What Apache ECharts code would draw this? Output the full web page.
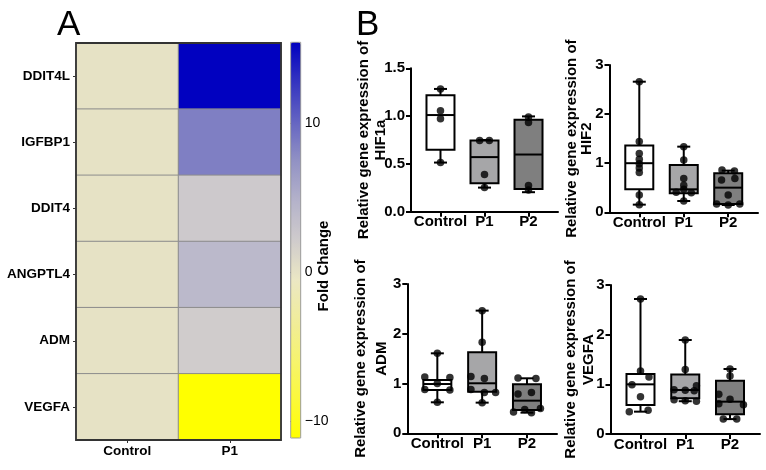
<!DOCTYPE html>
<html><head><meta charset="utf-8">
<script src="https://cdn.jsdelivr.net/npm/echarts@6/dist/echarts.min.js"></script>
<style>html,body{margin:0;padding:0;background:#fff}#c{width:766px;height:470px}</style>
</head><body><div id="c"></div>
<script>
// ---------- Panel A data ----------
const genes = ['DDIT4L', 'IGFBP1', 'DDIT4', 'ANGPTL4', 'ADM', 'VEGFA'];
const heatCols = ['Control', 'P1'];
const controlFold = [0, 0, 0, 0, 0, 0];
const p1Fold = [15.4, 8.6, 2.4, 4.1, 2.1, -11.1];
const foldMin = -11.1;
const foldMax = 15.44;
const foldTicks = [-10, 0, 10];

// ---------- Panel B data ----------
const groups = ['Control', 'P1', 'P2'];
// box stats: [min, Q1, median, Q3, max]
const hif1aBox = [[0.514, 0.647, 1.011, 1.217, 1.284], [0.252, 0.298, 0.571, 0.745, 0.75], [0.204, 0.238, 0.598, 0.962, 0.997]];
const hif1aPts = [[1.284, 1.057, 0.973, 0.514], [0.745, 0.745, 0.39, 0.252], [0.99, 0.934, 0.273, 0.228]];
const hif2Box = [[0.156, 0.468, 1.0, 1.358, 2.66], [0.23, 0.387, 0.468, 0.964, 1.337], [0.149, 0.17, 0.502, 0.794, 0.849]];
const hif2Pts = [[2.66, 1.44, 1.2, 1.08, 0.99, 0.9, 0.81, 0.353, 0.156], [1.337, 1.066, 0.69, 0.55, 0.47, 0.41, 0.40, 0.23], [0.86, 0.84, 0.69, 0.66, 0.353, 0.17, 0.17, 0.149]];
const admBox = [[0.623, 0.87, 0.99, 1.072, 1.607], [0.616, 0.837, 1.005, 1.628, 2.465], [0.415, 0.469, 0.656, 0.985, 1.105]];
const admPts = [[1.607, 1.13, 1.12, 1.0, 0.88, 0.87, 0.623], [2.465, 1.83, 1.14, 1.10, 0.88, 0.82, 0.82, 0.616], [1.11, 1.10, 0.82, 0.79, 0.50, 0.48, 0.43, 0.415]];
const vegfaBox = [[0.45, 0.584, 1.0, 1.208, 2.718], [0.66, 0.718, 0.886, 1.2, 1.893], [0.30, 0.396, 0.651, 1.074, 1.309]];
const vegfaPts = [[2.718, 1.27, 1.15, 0.99, 0.75, 0.48, 0.45], [1.893, 1.30, 0.97, 0.89, 0.88, 0.87, 0.69, 0.67, 0.66], [1.309, 1.17, 0.80, 0.70, 0.61, 0.59, 0.30, 0.30]];

// ---------- layout / style (not data) ----------
// horizontal dot spread, in category units
const spread = {
  hif1a: [[0, 0, 0, 0], [-0.11, 0.11, 0, 0], [0, 0, 0, 0]],
  hif2: [[0, 0, 0, 0, 0, 0, 0, 0, 0], [0, 0, 0, 0, 0, -0.17, 0.17, 0], [-0.14, 0.14, 0.15, -0.15, 0, -0.26, 0.26, 0]],
  adm: [[0, -0.28, 0.28, 0, -0.28, 0.28, 0], [0, 0, -0.25, 0.05, -0.25, 0.05, 0.3, 0], [-0.2, 0.2, 0.1, -0.2, 0.3, -0.05, -0.3, 0.1]],
  vegfa: [[0, 0, 0.19, -0.19, 0, 0.17, -0.25], [0, 0, 0.25, -0.25, 0, 0.2, -0.25, 0, 0.25], [0, 0, -0.25, 0, -0.25, 0.3, -0.15, 0.15]]
};
const boxFills = ['#ffffff', '#a6a6a8', '#7f7f7f'];
const heatColors = ['#ffff00', '#fbf93c', '#f6f370', '#f0ec9c', '#ebe7c4', '#cfcbcc', '#b4b2ca', '#9292c4', '#6464c2', '#3434c0', '#0000c0'];
const SANS = "'Liberation Sans', Arial, Helvetica, sans-serif";

const plots = [
  { gene: 'HIF1a', box: hif1aBox, pts: hif1aPts, sp: spread.hif1a, yMax: 1.5, step: 0.5, dec: 1,
    grid: { left: 411, top: 68.3, width: 147, height: 143.4 }, nameGap: 21.5, lh: 17 },
  { gene: 'HIF2', box: hif2Box, pts: hif2Pts, sp: spread.hif2, yMax: 3, step: 1, dec: 0,
    grid: { left: 609.5, top: 65, width: 148.5, height: 147.3 }, nameGap: 15, lh: 15 },
  { gene: 'ADM', box: admBox, pts: admPts, sp: spread.adm, yMax: 3, step: 1, dec: 0,
    grid: { left: 407.3, top: 284, width: 149.7, height: 149.3 }, nameGap: 14.5, lh: 21 },
  { gene: 'VEGFA', box: vegfaBox, pts: vegfaPts, sp: spread.vegfa, yMax: 3, step: 1, dec: 0,
    grid: { left: 610.5, top: 285, width: 149.5, height: 149 }, nameGap: 12.5, lh: 18 }
];

function boxRenderer(params, api) {
  const x = api.value(0);
  const p = [1, 2, 3, 4, 5].map(d => api.coord([x, api.value(d)]));
  const cx = p[0][0];
  const bw = 28, cw = 13;
  const ls = { stroke: '#000', lineWidth: 2 };
  return {
    type: 'group',
    children: [
      { type: 'line', shape: { x1: cx, y1: p[0][1], x2: cx, y2: p[1][1] }, style: ls },
      { type: 'line', shape: { x1: cx, y1: p[3][1], x2: cx, y2: p[4][1] }, style: ls },
      { type: 'rect', shape: { x: cx - bw / 2, y: p[3][1], width: bw, height: p[1][1] - p[3][1] },
        style: { fill: boxFills[params.dataIndex], stroke: '#000', lineWidth: 2 } },
      { type: 'line', shape: { x1: cx - bw / 2, y1: p[2][1], x2: cx + bw / 2, y2: p[2][1] }, style: ls },
      { type: 'line', shape: { x1: cx - cw / 2, y1: p[0][1], x2: cx + cw / 2, y2: p[0][1] }, style: ls },
      { type: 'line', shape: { x1: cx - cw / 2, y1: p[4][1], x2: cx + cw / 2, y2: p[4][1] }, style: ls }
    ]
  };
}

const heatData = [];
genes.forEach((g, i) => {
  heatData.push([0, i, controlFold[i]]);
  heatData.push([1, i, p1Fold[i]]);
});

const grids = [
  { left: 76, top: 43, width: 205, height: 397, show: true, borderColor: '#333', borderWidth: 1.8, z: 10,
    backgroundColor: 'transparent', outerBoundsMode: 'none', containLabel: false },
  { left: 290.7, top: 42.3, width: 10, height: 395.7, show: true, borderColor: '#888', borderWidth: 0.8, z: 10,
    backgroundColor: 'transparent', outerBoundsMode: 'none', containLabel: false }
];
const xAxes = [
  { type: 'category', gridIndex: 0, data: heatCols, axisLine: { show: false },
    axisTick: { show: true, alignWithLabel: true, length: 3, lineStyle: { color: '#333' } },
    axisLabel: { fontFamily: SANS, fontWeight: 'bold', fontSize: 13.5, color: '#000', margin: 4 } },
  { type: 'value', gridIndex: 1, show: false, min: 0, max: 1 }
];
const yAxes = [
  { type: 'category', gridIndex: 0, data: genes, inverse: true, axisLine: { show: false },
    axisTick: { show: true, alignWithLabel: true, length: 3, lineStyle: { color: '#333' } },
    axisLabel: { fontFamily: SANS, fontWeight: 'bold', fontSize: 13.5, color: '#000', margin: 6 } },
  { type: 'value', gridIndex: 1, position: 'right', min: foldMin, max: foldMax,
    axisLine: { show: false }, splitLine: { show: false },
    axisTick: { show: true, customValues: foldTicks, length: 3, lineStyle: { color: '#333' } },
    axisLabel: { customValues: foldTicks, formatter: v => String(v).replace('-', '\u2212'),
      fontFamily: SANS, fontSize: 14, color: '#000', margin: 4 } }
];
const series = [
  { type: 'heatmap', xAxisIndex: 0, yAxisIndex: 0, data: heatData,
    itemStyle: { borderColor: '#8c8c8c', borderWidth: 1 }, emphasis: { disabled: true } }
];

plots.forEach((pl, k) => {
  const gi = k + 2;
  grids.push(Object.assign({ outerBoundsMode: 'none', containLabel: false }, pl.grid));
  xAxes.push({
    type: 'value', gridIndex: gi, min: -0.67, max: 2.67, splitLine: { show: false },
    axisLine: { show: true, onZero: false, lineStyle: { color: '#000', width: 2 } },
    axisTick: { show: true, customValues: [0, 1, 2], length: 5, lineStyle: { color: '#000', width: 2 } },
    axisLabel: { customValues: [0, 1, 2], formatter: v => groups[Math.round(v)],
      fontFamily: SANS, fontWeight: 'bold', fontSize: 15, color: '#000', margin: 3 }
  });
  yAxes.push({
    type: 'value', gridIndex: gi, min: 0, max: pl.yMax, interval: pl.step, splitLine: { show: false },
    axisLine: { show: true, onZero: false, lineStyle: { color: '#000', width: 2 } },
    axisTick: { show: true, length: 5, lineStyle: { color: '#000', width: 2 } },
    axisLabel: { formatter: v => v.toFixed(pl.dec), fontFamily: SANS, fontWeight: 'bold', fontSize: 15, color: '#000', margin: 6 },
    name: 'Relative gene expression of\n' + pl.gene, nameLocation: 'middle', nameGap: pl.nameGap,
    nameMoveOverlap: false,
    nameTextStyle: { fontFamily: SANS, fontWeight: 'bold', fontSize: 15, color: '#000', lineHeight: pl.lh }
  });
  series.push({
    type: 'custom', xAxisIndex: gi, yAxisIndex: gi, renderItem: boxRenderer,
    encode: { x: 0, y: [1, 2, 3, 4, 5] },
    data: pl.box.map((b, i) => [i].concat(b)), z: 2, silent: true
  });
  const dots = [];
  pl.pts.forEach((arr, i) => arr.forEach((v, j) => dots.push([i + pl.sp[i][j], v])));
  series.push({
    type: 'scatter', xAxisIndex: gi, yAxisIndex: gi, data: dots, symbolSize: 7.5,
    itemStyle: { color: '#000' }, z: 3, silent: true
  });
});

const option = {
  backgroundColor: '#fff',
  animation: false,
  title: [
    { text: 'A', left: 57, top: 8, padding: 0, textStyle: { fontFamily: SANS, fontWeight: 'normal', fontSize: 35, color: '#000' } },
    { text: 'B', left: 356, top: 8, padding: 0, textStyle: { fontFamily: SANS, fontWeight: 'normal', fontSize: 35, color: '#000' } }
  ],
  visualMap: {
    type: 'continuous', seriesIndex: 0, min: foldMin, max: foldMax, calculable: false,
    orient: 'vertical', left: 290.7, top: 42.3, itemWidth: 10, itemHeight: 395.7, padding: 0,
    inRange: { color: heatColors }
  },
  graphic: [
    { type: 'text', x: 323.5, y: 266, rotation: Math.PI / 2, z: 20,
      style: { text: 'Fold Change', align: 'center', verticalAlign: 'middle',
        font: "bold 15px 'Liberation Sans', Arial, sans-serif", fill: '#000' } }
  ],
  grid: grids,
  xAxis: xAxes,
  yAxis: yAxes,
  series: series
};

const chart = echarts.init(document.getElementById('c'), null, { renderer: 'canvas' });
chart.setOption(option);
</script></body></html>
